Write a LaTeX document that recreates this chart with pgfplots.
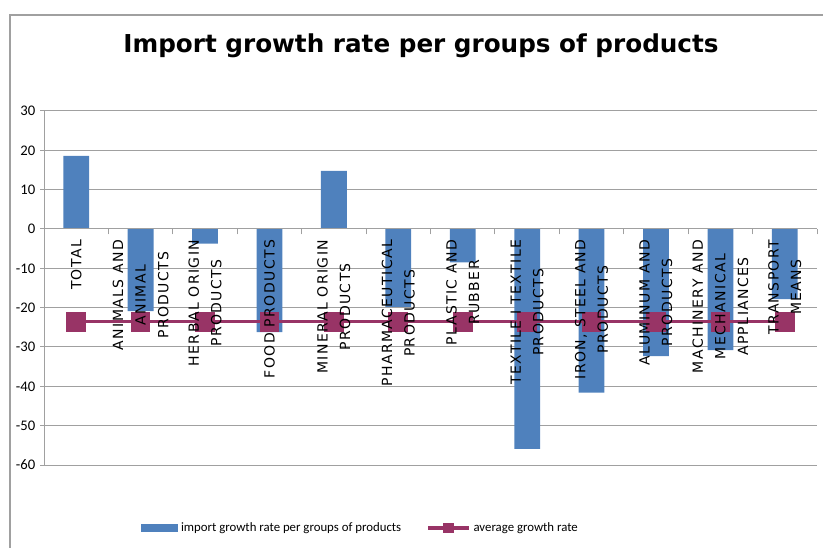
\documentclass[border=0pt]{standalone}
\usepackage{pgfplots}
\pgfplotsset{compat=1.18}
\usepackage{fontspec}
\setmainfont{DejaVu Sans}
\newfontfamily\carlito{Carlito}
\newfontfamily\lblfont[LetterSpace=10]{DejaVu Sans}
\definecolor{barblue}{RGB}{79,129,189}
\definecolor{lineco}{RGB}{152,52,102}
\definecolor{gridc}{RGB}{160,160,160}
\begin{document}
\begin{tikzpicture}
\begin{axis}[
  set layers=axis on top, mark layer=like plot,
  at={(33pt,-83.25pt)}, anchor=north west,
  scale only axis, width=579.75pt, height=265.5pt,
  xmin=-0.5, xmax=11.5, ymin=-60, ymax=30,
  axis x line*=middle, axis y line*=left,
  axis line style={gridc, line width=0.75pt},
  ytick={-60,-50,-40,-30,-20,-10,0,10,20,30},
  yticklabels={-60,-50,-40,-30,-20,-10,0,10,20,30},
  yticklabel style={font=\carlito\fontsize{11}{13}\selectfont, black},
  xtick={0,...,11},
  minor xtick={0.5,1.5,...,11.5},
  x tick style={draw=none},
  minor x tick style={draw=gridc, line width=0.75pt},
  y tick style={gridc, line width=0.75pt},
  tick align=outside,
  major tick length=3pt, minor tick length=4pt,
  xticklabels={TOTAL, ANIMALS AND\\ANIMAL\\PRODUCTS, HERBAL ORIGIN\\PRODUCTS, FOOD PRODUCTS, MINERAL ORIGIN\\PRODUCTS, PHARMACEUTICAL\\PRODUCTS, PLASTIC AND\\RUBBER, TEXTILE I TEXTILE\\PRODUCTS, {IRON, STEEL AND\\PRODUCTS}, ALUMINUM AND\\PRODUCTS, MACHINERY AND\\MECHANICAL\\APPLIANCES, TRANSPORT\\MEANS},
  xticklabel style={rotate=90, anchor=east, align=center, font=\lblfont\fontsize{10.5}{16.9}\selectfont, black, inner sep=1pt, xshift=-4pt},
  legend style={at={(0.41,-0.178)}, anchor=center, draw=none, fill=none, legend columns=2,
    font=\carlito\fontsize{9.6}{12}\selectfont,
    /tikz/every even column/.append style={column sep=17pt}},
  legend cell align=left,
]
% horizontal gridlines (drawn under the bars)
\addplot[gridc, line width=0.75pt, forget plot] coordinates {(-0.5,-60) (11.5,-60)};
\addplot[gridc, line width=0.75pt, forget plot] coordinates {(-0.5,-50) (11.5,-50)};
\addplot[gridc, line width=0.75pt, forget plot] coordinates {(-0.5,-40) (11.5,-40)};
\addplot[gridc, line width=0.75pt, forget plot] coordinates {(-0.5,-30) (11.5,-30)};
\addplot[gridc, line width=0.75pt, forget plot] coordinates {(-0.5,-20) (11.5,-20)};
\addplot[gridc, line width=0.75pt, forget plot] coordinates {(-0.5,-10) (11.5,-10)};
\addplot[gridc, line width=0.75pt, forget plot] coordinates {(-0.5,10) (11.5,10)};
\addplot[gridc, line width=0.75pt, forget plot] coordinates {(-0.5,20) (11.5,20)};
\addplot[gridc, line width=0.75pt, forget plot] coordinates {(-0.5,30) (11.5,30)};
\addplot[ybar, bar width=0.4, fill=barblue, draw=none,
  legend image code/.code={\fill[barblue] (0pt,-3pt) rectangle (27.75pt,3pt);}]
  coordinates {(0,18.6) (1,-20.9) (2,-3.7) (3,-26.2) (4,14.8) (5,-19.8) (6,-8.5) (7,-55.9) (8,-41.6) (9,-32.3) (10,-30.8) (11,-17.8)};
\addlegendentry{import growth rate per groups of products}
\addplot[lineco, line width=2.5pt, mark=square*, mark size=7pt, mark options={solid, fill=lineco, draw=lineco, line width=0pt},
  legend image code/.code={\draw[lineco, line width=2.5pt] (0pt,0pt) -- (30.75pt,0pt); \fill[lineco] (12.5pt,-2.8pt) rectangle (18pt,2.8pt);}]
  coordinates {(0,-23.6) (1,-23.6) (2,-23.6) (3,-23.6) (4,-23.6) (5,-23.6) (6,-23.6) (7,-23.6) (8,-23.6) (9,-23.6) (10,-23.6) (11,-23.6)};
\addlegendentry{average growth rate}
\end{axis}
\useasboundingbox (0,0) rectangle (617.25pt,-411pt);
\draw[gridc, line width=1.1pt] (7.5pt,-450pt) -- (7.5pt,-11.25pt) -- (650pt,-11.25pt);
\node[anchor=base, font=\bfseries\fontsize{18.5}{22}\selectfont] at (315.75pt,-39.75pt) {Import growth rate per groups of products};
\end{tikzpicture}
\end{document}
